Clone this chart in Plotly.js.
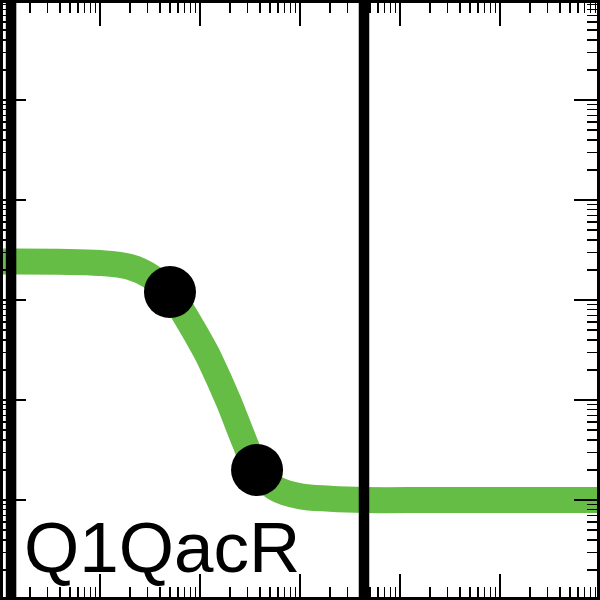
<!DOCTYPE html>
<html>
<head>
<meta charset="utf-8">
<script src="https://cdn.plot.ly/plotly-3.0.1.min.js"></script>
<style>html,body{margin:0;padding:0;background:#fff;}#chart{width:600px;height:600px;}</style>
</head>
<body>
<div id="chart"></div>
<script>
// Fitted curve
const curveX = [1, 10, 20, 31.6, 50.1, 72.4, 112, 126, 190.5, 282, 372, 562, 1000, 2000, 4467, 20000, 100000, 1000000];
const curveY = [2427, 2344, 2138, 1738, 1202, 676, 316, 251, 100, 37.2, 20, 13.2, 10.9, 10.3, 10, 10, 10, 10];
// Highlighted points
const dotX = [50.1, 372];
const dotY = [1202, 20];
// Vertical reference lines
const vlineX = [1.29, 4365];
const yMin = 1, yMax = 1000000;
const label = "Q1QacR";

const traces = [
  {x: curveX, y: curveY, type: 'scatter', mode: 'lines',
   line: {color: '#66bd46', width: 26, shape: 'spline', smoothing: 1}, hoverinfo: 'skip'}
];
vlineX.forEach(v => traces.push({
  x: [v, v], y: [yMin, yMax], type: 'scatter', mode: 'lines',
  line: {color: '#000', width: 10.5}, hoverinfo: 'skip'
}));
traces.push({x: dotX, y: dotY, type: 'scatter', mode: 'markers',
  marker: {color: '#000', size: 52}, hoverinfo: 'skip'});

const axisCommon = {
  type: 'log', range: [0, 6], dtick: 1,
  showgrid: false, zeroline: false, showline: false, showticklabels: false,
  ticks: 'inside', ticklen: 26, tickwidth: 1.5, tickcolor: '#000', mirror: 'allticks',
  minor: {ticks: 'inside', ticklen: 13, tickwidth: 1.5, tickcolor: '#000', dtick: 'D1', showgrid: false}
};

const layout = {
  width: 600, height: 600,
  margin: {l: 0, r: 0, t: 0, b: 0},
  paper_bgcolor: '#fff', plot_bgcolor: '#fff',
  showlegend: false,
  xaxis: Object.assign({}, axisCommon),
  yaxis: Object.assign({}, axisCommon),
  shapes: [{type: 'rect', xref: 'paper', yref: 'paper', x0: 0, x1: 1, y0: 0, y1: 1,
            line: {color: '#000', width: 6}, layer: 'above'}],
  annotations: [{text: label, xref: 'paper', yref: 'paper', x: 0.036, y: 0,
                 xanchor: 'left', yanchor: 'bottom', yshift: 11, showarrow: false,
                 font: {family: 'Liberation Sans, Arial, sans-serif', size: 71, color: '#000'}}]
};

Plotly.newPlot('chart', traces, layout, {staticPlot: true});
</script>
</body>
</html>
